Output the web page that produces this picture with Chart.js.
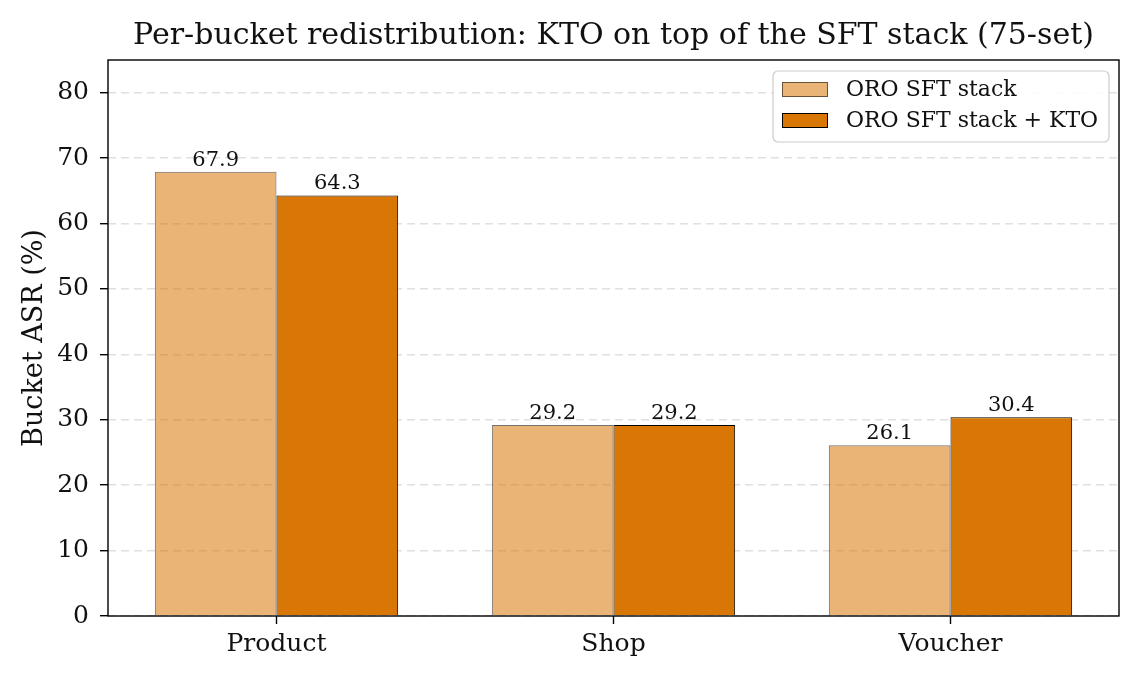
<!DOCTYPE html>
<html>
<head>
<meta charset="utf-8">
<script src="https://cdn.jsdelivr.net/npm/chart.js@4"></script>
<style>
	html, body { margin: 0; padding: 0; background: #fff; }
	#wrap { width: 1140px; height: 681px; position: relative; }
</style>
</head>
<body>
<div id="wrap"><canvas id="bucket-chart" width="1140" height="681"></canvas></div>
<script>
const BUCKETS = ['Product', 'Shop', 'Voucher'];
const SFT_STACK = [67.9, 29.2, 26.1];
const SFT_KTO = [64.3, 29.2, 30.4];
const SERIES_NAMES = ['ORO SFT stack', 'ORO SFT stack + KTO'];
const Y_TICKS = [0, 10, 20, 30, 40, 50, 60, 70, 80];

const COLORS = {
	kto: '#d97706',
	sft: 'rgba(217, 119, 6, 0.55)',
	sft_edge: 'rgba(0, 0, 0, 0.55)',
	grid: '#e0e0e0',
	text: '#111',
};
const FONT = "'DejaVu Serif', serif";

const ctx = document.getElementById('bucket-chart').getContext('2d');

// title, y label, frame, value labels and legend
const extras = {
	id: 'extras',
	afterDatasetsDraw(chart) {
		const c = chart.ctx;
		const area = chart.chartArea;
		c.save();

		// value labels
		c.fillStyle = COLORS.text;
		c.font = '21px ' + FONT;
		c.textAlign = 'center';
		c.textBaseline = 'alphabetic';
		chart.data.datasets.forEach((ds, i) => {
			chart.getDatasetMeta(i).data.forEach((bar, j) => {
				c.fillText(ds.data[j].toFixed(1), bar.x, bar.y - 6);
			});
		});

		// frame
		c.strokeStyle = '#000';
		c.lineWidth = 1.4;
		c.strokeRect(area.left, area.top, area.right - area.left, area.bottom - area.top);

		// title
		c.font = '30px ' + FONT;
		c.fillText('Per-bucket redistribution: KTO on top of the SFT stack (75-set)', (area.left + area.right) / 2, 44);

		// y label
		c.save();
		c.translate(42, (area.top + area.bottom) / 2);
		c.rotate(-Math.PI / 2);
		c.font = '27px ' + FONT;
		c.fillText('Bucket ASR (%)', 0, 0);
		c.restore();

		// legend
		const lx = 773, ly = 71, lw = 336, lh = 71;
		c.beginPath();
		c.roundRect(lx, ly, lw, lh, 5);
		c.fillStyle = 'rgba(255,255,255,0.85)';
		c.fill();
		c.strokeStyle = '#cccccc';
		c.lineWidth = 1.2;
		c.stroke();
		c.font = '22px ' + FONT;
		c.textAlign = 'left';
		c.textBaseline = 'middle';
		chart.data.datasets.forEach((ds, i) => {
			const sy = 82 + i * 31;
			c.fillStyle = ds.backgroundColor;
			c.fillRect(782, sy, 46, 15);
			c.strokeStyle = ds.borderColor;
			c.lineWidth = 1;
			c.strokeRect(782.5, sy + 0.5, 45, 14);
			c.fillStyle = COLORS.text;
			c.fillText(ds.label, 846, sy + 8);
		});
		c.restore();
	},
};

const config_bars = {
	type: 'bar',
	data: {
		labels: BUCKETS,
		datasets: [
			{
				label: SERIES_NAMES[0],
				data: SFT_STACK,
				backgroundColor: COLORS.sft,
				borderColor: COLORS.sft_edge,
				borderWidth: 1,
				borderSkipped: 'bottom',
			},
			{
				label: SERIES_NAMES[1],
				data: SFT_KTO,
				backgroundColor: COLORS.kto,
				borderColor: '#000',
				borderWidth: 1,
				borderSkipped: 'bottom',
			},
		],
	},
	options: {
		responsive: false,
		animation: false,
		events: [],
		layout: { padding: { top: 60, right: 21, left: 0, bottom: 0 } },
		datasets: {
			bar: { categoryPercentage: 0.722, barPercentage: 1.0 },
		},
		plugins: {
			legend: { display: false },
			title: { display: false },
			tooltip: { enabled: false },
		},
		scales: {
			x: {
				offset: true,
				grid: {
					offset: false,
					drawOnChartArea: false,
					drawTicks: true,
					tickLength: 8,
					tickColor: '#000',
					tickWidth: 1.4,
				},
				border: { display: false },
				ticks: {
					color: COLORS.text,
					font: { family: FONT, size: 25 },
					padding: 5,
					maxRotation: 0,
				},
				afterFit(scale) { scale.height = 65; },
			},
			y: {
				min: 0,
				max: 85,
				grid: {
					color: COLORS.grid,
					lineWidth: 1.4,
					drawTicks: true,
					tickLength: 8,
					tickColor: '#000',
					tickWidth: 1.4,
				},
				border: { display: false, dash: [8, 5] },
				ticks: {
					color: COLORS.text,
					font: { family: FONT, size: 25 },
					padding: 11,
				},
				afterBuildTicks(scale) {
					scale.ticks = Y_TICKS.map(v => ({ value: v }));
				},
				afterFit(scale) { scale.width = 108; },
			},
		},
	},
	plugins: [extras],
};

new Chart(ctx, config_bars);
</script>
</body>
</html>
